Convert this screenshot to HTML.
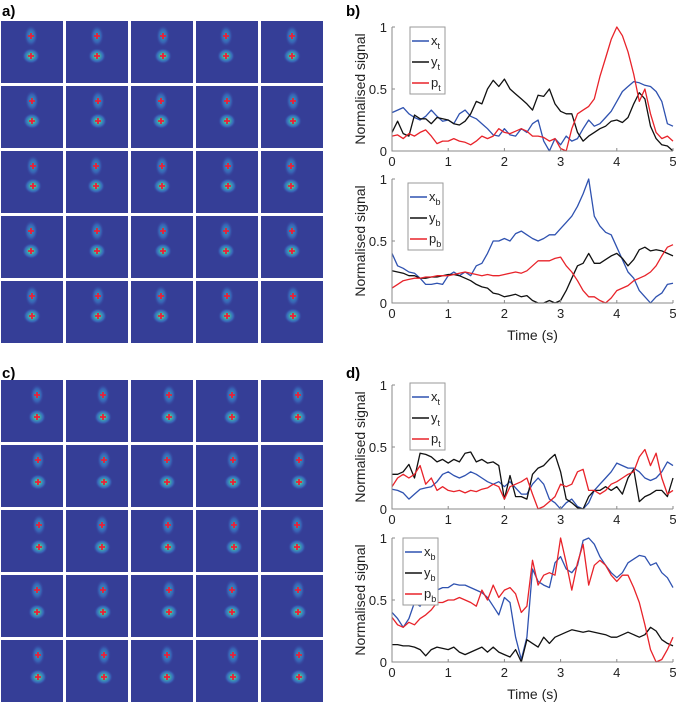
<!DOCTYPE html>
<html><head><meta charset="utf-8"><style>
body{margin:0;background:#fff;width:676px;height:705px;overflow:hidden;font-family:"Liberation Sans",sans-serif}
svg{position:absolute;left:0;top:0}
</style></head><body>
<svg id="fig" width="676" height="705" viewBox="0 0 676 705" xmlns="http://www.w3.org/2000/svg">
<defs>
<radialGradient id="blob"><stop offset="0" stop-color="#e6d230"/><stop offset="0.3" stop-color="#3fb8a8"/><stop offset="0.7" stop-color="#3a78c8" stop-opacity="0.7"/><stop offset="1" stop-color="#353e97" stop-opacity="0"/></radialGradient>
<radialGradient id="blob2"><stop offset="0" stop-color="#30b0b8"/><stop offset="0.6" stop-color="#3a70c0" stop-opacity="0.7"/><stop offset="1" stop-color="#353e97" stop-opacity="0"/></radialGradient>
</defs>
<text x="2" y="16" font-size="15" font-weight="bold">a)</text>
<text x="346" y="16" font-size="15" font-weight="bold">b)</text>
<text x="2" y="378" font-size="15" font-weight="bold">c)</text>
<text x="346" y="378" font-size="15" font-weight="bold">d)</text>
<g id="tiles"></g>
<g id="charts"></g>
</svg>
<script>
const T = [0,0.1,0.2,0.3,0.4,0.5,0.6,0.7,0.8,0.9,1,1.1,1.2,1.3,1.4,1.5,1.6,1.7,1.8,1.9,2,2.1,2.2,2.3,2.4,2.5,2.6,2.7,2.8,2.9,3,3.1,3.2,3.3,3.4,3.5,3.6,3.7,3.8,3.9,4,4.1,4.2,4.3,4.4,4.5,4.6,4.7,4.8,4.9,5];
const bTopX = [0.31,0.33,0.35,0.3,0.27,0.25,0.28,0.33,0.28,0.24,0.25,0.22,0.3,0.33,0.28,0.26,0.22,0.18,0.13,0.12,0.18,0.13,0.12,0.18,0.15,0.22,0.25,0.08,0,0.1,0.05,0.12,0.08,0.1,0.18,0.25,0.2,0.22,0.27,0.32,0.4,0.48,0.52,0.56,0.55,0.53,0.52,0.48,0.4,0.22,0.2];
const bTopY = [0.15,0.24,0.14,0.12,0.29,0.26,0.26,0.22,0.27,0.26,0.25,0.22,0.21,0.24,0.3,0.4,0.38,0.5,0.57,0.52,0.58,0.5,0.46,0.42,0.38,0.33,0.45,0.44,0.5,0.38,0.32,0.3,0.3,0.15,0.08,0.12,0.15,0.18,0.2,0.24,0.25,0.23,0.27,0.38,0.47,0.42,0.2,0.1,0.05,0.04,0];
const bTopP = [0.12,0.13,0.1,0.14,0.12,0.15,0.17,0.12,0.06,0.08,0.08,0.1,0.08,0.07,0.05,0.08,0.12,0.1,0.12,0.18,0.15,0.14,0.16,0.18,0.16,0.12,0.12,0.11,0.08,0.1,0.02,0,0.18,0.3,0.33,0.36,0.42,0.6,0.75,0.9,1,0.93,0.8,0.62,0.4,0.5,0.3,0.15,0.1,0.12,0.08];
const bBotX = [0.4,0.3,0.28,0.25,0.24,0.2,0.15,0.15,0.16,0.15,0.22,0.25,0.22,0.25,0.22,0.3,0.32,0.4,0.5,0.5,0.52,0.5,0.56,0.58,0.55,0.52,0.5,0.52,0.55,0.55,0.6,0.65,0.7,0.78,0.88,1,0.7,0.62,0.57,0.55,0.45,0.35,0.25,0.2,0.1,0.05,0,0.05,0.08,0.15,0.16];
const bBotY = [0.26,0.25,0.24,0.22,0.22,0.2,0.2,0.21,0.21,0.22,0.23,0.23,0.22,0.2,0.18,0.15,0.13,0.12,0.08,0.07,0.05,0.06,0.07,0.05,0.06,0.02,0,0,0.02,0,0.02,0.1,0.2,0.3,0.32,0.4,0.32,0.32,0.35,0.38,0.4,0.36,0.3,0.35,0.43,0.45,0.42,0.43,0.42,0.4,0.38];
const bBotP = [0.12,0.15,0.18,0.19,0.2,0.2,0.21,0.21,0.22,0.22,0.22,0.23,0.24,0.25,0.24,0.23,0.22,0.23,0.22,0.22,0.23,0.24,0.25,0.24,0.26,0.3,0.34,0.34,0.34,0.36,0.37,0.3,0.25,0.18,0.1,0.05,0.05,0.02,0,0.04,0.1,0.12,0.14,0.18,0.2,0.22,0.25,0.3,0.38,0.45,0.47];
const dTopX = [0.16,0.15,0.13,0.08,0.12,0.16,0.17,0.18,0.22,0.28,0.3,0.27,0.25,0.27,0.3,0.28,0.25,0.22,0.2,0.22,0.18,0.22,0.17,0.12,0.12,0.2,0.25,0.2,0.08,0.05,0,0.05,0.08,0.02,0,0.05,0.15,0.2,0.25,0.3,0.37,0.35,0.33,0.33,0.3,0.25,0.23,0.25,0.3,0.38,0.35];
const dTopY = [0.28,0.28,0.3,0.36,0.25,0.45,0.44,0.42,0.38,0.4,0.37,0.4,0.38,0.45,0.46,0.38,0.4,0.37,0.38,0.35,0.08,0.27,0.1,0.1,0.08,0.28,0.33,0.35,0.4,0.44,0.3,0.08,0.05,0.01,0,0.1,0.15,0.15,0.18,0.15,0.18,0.12,0.25,0.32,0.06,0.1,0.12,0.15,0.15,0.1,0.25];
const dTopP = [0.18,0.25,0.28,0.25,0.28,0.35,0.2,0.25,0.15,0.18,0.15,0.14,0.15,0.13,0.15,0.14,0.16,0.17,0.2,0.18,0.08,0.18,0.2,0.22,0.25,0.12,0,0.02,0.06,0.1,0.2,0.18,0.2,0.3,0.32,0.15,0.15,0.12,0.15,0.2,0.22,0.25,0.28,0.3,0.42,0.48,0.35,0.45,0.25,0.12,0.15];
const dBotX = [0.4,0.35,0.28,0.35,0.48,0.45,0.52,0.55,0.58,0.6,0.6,0.63,0.62,0.62,0.6,0.58,0.56,0.52,0.45,0.38,0.52,0.48,0.2,0.02,0.2,0.75,0.65,0.62,0.6,0.8,0.85,0.75,0.72,0.78,0.98,1,0.95,0.85,0.78,0.72,0.68,0.72,0.8,0.83,0.86,0.85,0.78,0.8,0.72,0.68,0.6];
const dBotY = [0.14,0.14,0.13,0.13,0.12,0.1,0.05,0.1,0.12,0.11,0.1,0.12,0.08,0.06,0.08,0.1,0.12,0.08,0.12,0.08,0.06,0.04,0.1,0,0.18,0.15,0.12,0.2,0.15,0.2,0.22,0.24,0.26,0.25,0.24,0.25,0.24,0.23,0.22,0.2,0.2,0.22,0.24,0.22,0.2,0.22,0.28,0.25,0.18,0.15,0.13];
const dBotP = [0.36,0.3,0.28,0.32,0.3,0.35,0.38,0.42,0.48,0.48,0.5,0.5,0.52,0.5,0.48,0.45,0.58,0.5,0.62,0.52,0.58,0.6,0.55,0.4,0.45,0.82,0.62,0.7,0.72,0.7,1,0.8,0.58,0.8,0.95,0.62,0.78,0.82,0.78,0.7,0.65,0.7,0.7,0.6,0.48,0.3,0.1,0,0.02,0.1,0.2];
const xTicks = [0,1,2,3,4,5];
const yTicks = [0,0.5,1];
const yTickLabels = ["0","0.5","1"];

const NS="http://www.w3.org/2000/svg";
function mk(tag, attrs, parent){const e=document.createElementNS(NS,tag);for(const k in attrs)e.setAttribute(k,attrs[k]);parent.appendChild(e);return e;}

// tiles
const tiles=document.getElementById('tiles');
const colsX=[1,66,131,196,261];
function grid(rowsY, topOff, botOff, cx, panel){
  rowsY.forEach((ry,ri)=>colsX.forEach((cxx,ci)=>{
    const g=mk('g',{},tiles);
    
    
    mk('rect',{x:cxx,y:ry,width:62,height:62,fill:'#353e97'},g);
    const x=cxx+cx+((ci+ri)%3-1);
    mk('ellipse',{cx:x,cy:ry+topOff,rx:7,ry:11,fill:'url(#blob2)'},g);
    mk('ellipse',{cx:x,cy:ry+botOff,rx:9,ry:8,fill:'url(#blob)'},g);
    [topOff,botOff].forEach(o=>{
      mk('path',{d:`M${x-3} ${ry+o}h6M${x} ${ry+o-3}v6`,stroke:'#e8203a','stroke-width':1.8},g);
    });
  }));
}
grid([21,86,151,216,281],15,35,31,'panel-a');
grid([380,445,510,575,640],15,37,37,'panel-c');

// charts
const charts=document.getElementById('charts');
const X0=392,X1=673;
function chart(name, yTop, yBot, series, sub, leg, showTime){
  const g=mk('g',{},charts);
  
  
  const sx=v=>X0+(X1-X0)*v/5, sy=v=>yBot-(yBot-yTop)*v;
  const colors=['#2f52b0','#111111','#e8232a'];
  series.forEach((s,i)=>{
    const p=mk('path',{d:s.map((v,j)=>(j?'L':'M')+sx(T[j]).toFixed(1)+' '+sy(v).toFixed(1)).join(''),fill:'none',stroke:colors[i],'stroke-width':1.3,'stroke-linejoin':'round'},g);
    
    
  });
  mk('path',{d:`M${X0} ${yTop}V${yBot}H${X1}`,fill:'none',stroke:'#8a8a8a','stroke-width':1},g);
  xTicks.forEach(t=>{
    mk('path',{d:`M${sx(t)} ${yBot}v-3`,stroke:'#8a8a8a'},g);
    const tx=mk('text',{x:sx(t),y:yBot+15,'font-size':13,'text-anchor':'middle',fill:'#222'},g);
    tx.textContent=t;
    
    
  });
  yTicks.forEach((t,i)=>{
    mk('path',{d:`M${X0} ${sy(t)}h3`,stroke:'#8a8a8a'},g);
    const tx=mk('text',{x:X0-5,y:sy(t)+5,'font-size':13,'text-anchor':'end',fill:'#222'},g);
    tx.textContent=yTickLabels[i];
    
    
  });
  const yl=mk('text',{x:0,y:0,'font-size':14,'text-anchor':'middle',fill:'#222',transform:`translate(365 ${(yTop+yBot)/2}) rotate(-90)`},g);
  yl.textContent='Normalised signal';
  
  
  if(showTime){
    const tl=mk('text',{x:(X0+X1)/2,y:yBot+37,'font-size':14,'text-anchor':'middle',fill:'#222'},g);
    tl.textContent='Time (s)';
    
    
  }
  const lg=mk('g',{},g);
  
  
  mk('rect',{x:leg[0],y:leg[1],width:35,height:67,fill:'#fff',stroke:'#9a9a9a'},lg);
  ['x','y','p'].forEach((n,i)=>{
    const ly=leg[1]+14+i*21;
    mk('path',{d:`M${leg[0]+2} ${ly}h17`,stroke:colors[i],'stroke-width':1.5},lg);
    const t=mk('text',{x:leg[0]+21,y:ly+4,'font-size':13,fill:'#222'},lg);
    t.textContent=n;
    const ts=mk('tspan',{'font-size':9,dy:4},t);
    ts.textContent=sub;
    
    
  });
}
chart('chart-b-top',27,151,[bTopX,bTopY,bTopP],'t',[410,27],false);
chart('chart-b-bottom',179,303,[bBotX,bBotY,bBotP],'b',[408,183],true);
chart('chart-d-top',385,509,[dTopX,dTopY,dTopP],'t',[410,383],false);
chart('chart-d-bottom',538,662,[dBotX,dBotY,dBotP],'b',[403,538],true);
</script>
</body></html>
